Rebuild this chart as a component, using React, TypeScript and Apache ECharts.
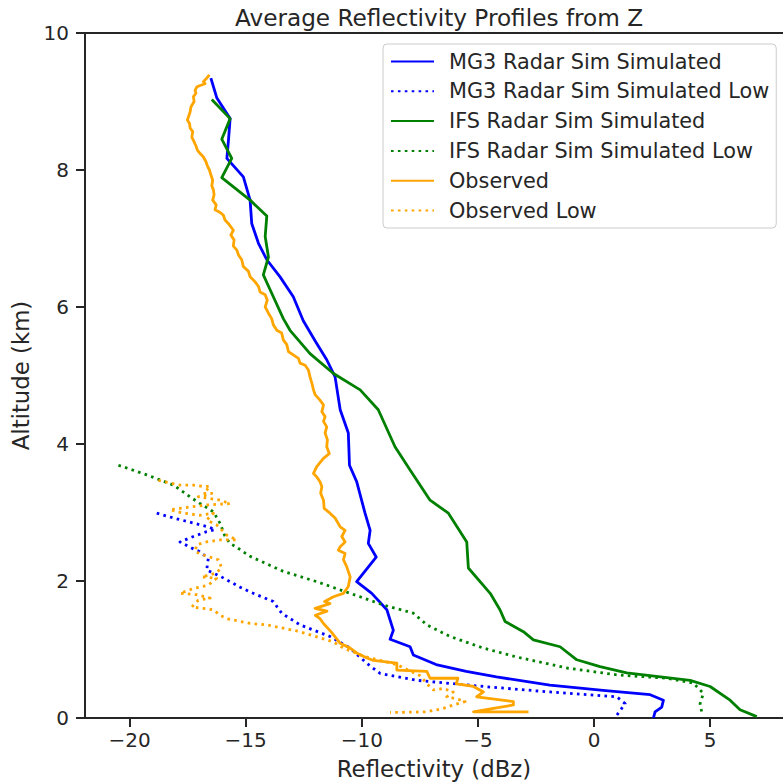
import React, { useEffect, useRef } from "react";
import * as echarts from "echarts";

const xTicks = [-20, -15, -10, -5, 0, 5];
const yTicks = [0, 2, 4, 6, 8, 10];

const seriesNames = [
  "MG3 Radar Sim Simulated",
  "MG3 Radar Sim Simulated Low",
  "IFS Radar Sim Simulated",
  "IFS Radar Sim Simulated Low",
  "Observed",
  "Observed Low",
];

// [reflectivity dBz, altitude km]
const mg3Sim: [number, number][] = [
  [-16.5, 9.34], [-16.24, 9.05], [-15.67, 8.75], [-15.74, 8.44], [-15.81, 8.17], [-15.1, 7.9],
  [-14.81, 7.56], [-14.74, 7.22], [-14.45, 6.93], [-14.09, 6.69], [-13.52, 6.44], [-12.95, 6.15],
  [-12.52, 5.8], [-12.0, 5.5], [-11.51, 5.23], [-11.15, 4.98], [-10.93, 4.5], [-10.58, 4.16],
  [-10.53, 3.69], [-10.22, 3.45], [-9.86, 2.99], [-9.64, 2.74], [-9.72, 2.55], [-9.38, 2.35],
  [-10.22, 1.99], [-9.57, 1.82], [-8.92, 1.58], [-8.64, 1.28], [-8.78, 1.15], [-7.92, 1.04],
  [-7.78, 0.92], [-6.8, 0.78], [-5.5, 0.68], [-4.2, 0.6], [-1.9, 0.48], [0.5, 0.4],
  [2.42, 0.34], [2.99, 0.26], [2.92, 0.16], [2.63, 0.09], [2.56, 0.0],
];

const mg3Low: [number, number][] = [
  [-18.83, 2.99], [-18.11, 2.92], [-17.18, 2.84], [-16.61, 2.79], [-16.32, 2.75], [-16.68, 2.72],
  [-17.25, 2.65], [-17.83, 2.57], [-17.32, 2.48], [-16.99, 2.43], [-16.61, 2.33], [-16.68, 2.16],
  [-16.1, 2.07], [-15.24, 1.91], [-14.81, 1.84], [-13.81, 1.7], [-13.45, 1.53], [-12.66, 1.36],
  [-11.37, 1.19], [-10.5, 1.02], [-9.79, 0.8], [-9.21, 0.65], [-7.63, 0.55], [-4.76, 0.46],
  [-1.89, 0.38], [0.98, 0.31], [1.34, 0.21], [0.98, 0.04],
];

const ifsSim: [number, number][] = [
  [-16.46, 9.03], [-15.67, 8.75], [-16.03, 8.45], [-15.6, 8.17], [-16.03, 7.89], [-14.81, 7.56],
  [-14.09, 7.33], [-14.16, 7.03], [-14.02, 6.73], [-14.24, 6.47], [-13.81, 6.15], [-13.38, 5.83],
  [-13.09, 5.66], [-12.23, 5.32], [-11.22, 5.03], [-10.07, 4.79], [-9.29, 4.5], [-8.57, 3.96],
  [-7.92, 3.62], [-7.06, 3.18], [-6.27, 2.99], [-5.48, 2.57], [-5.41, 2.19], [-4.47, 1.82],
  [-4.05, 1.58], [-3.83, 1.41], [-3.04, 1.26], [-2.61, 1.14], [-1.46, 1.04], [-0.74, 0.85],
  [0.26, 0.75], [1.41, 0.66], [4.14, 0.55], [5.0, 0.46], [5.86, 0.26], [6.29, 0.12], [7.01, 0.02],
];

const ifsLow: [number, number][] = [
  [-20.48, 3.69], [-19.26, 3.55], [-18.11, 3.4], [-17.4, 3.23], [-16.96, 3.13], [-16.39, 3.01],
  [-16.1, 2.84], [-15.89, 2.65], [-15.67, 2.55], [-15.38, 2.49], [-14.81, 2.36], [-13.38, 2.14],
  [-11.94, 1.99], [-10.5, 1.82], [-9.07, 1.65], [-7.78, 1.53], [-7.2, 1.36], [-6.2, 1.19],
  [-4.76, 1.02], [-3.32, 0.89], [-1.17, 0.73], [0.98, 0.63], [3.13, 0.58], [4.28, 0.51],
  [4.71, 0.36], [4.57, 0.21], [4.65, 0.07],
];

const observed: [number, number][] = [
  [-16.56, 9.39], [-16.68, 9.34], [-16.82, 9.29], [-16.75, 9.26], [-16.99, 9.23], [-17.11, 9.21],
  [-17.18, 9.16], [-17.14, 9.12], [-17.25, 9.07], [-17.22, 9.0], [-17.36, 8.92], [-17.39, 8.85],
  [-17.51, 8.73], [-17.42, 8.68], [-17.39, 8.61], [-17.28, 8.56], [-17.32, 8.48], [-17.22, 8.41],
  [-17.14, 8.35], [-17.08, 8.29], [-16.96, 8.24], [-16.82, 8.19], [-16.71, 8.12], [-16.65, 8.06],
  [-16.56, 8.0], [-16.5, 7.93], [-16.42, 7.85], [-16.46, 7.77], [-16.39, 7.71], [-16.36, 7.64],
  [-16.42, 7.56], [-16.27, 7.49], [-16.32, 7.42], [-16.1, 7.38], [-15.96, 7.34], [-15.89, 7.27],
  [-15.75, 7.22], [-15.53, 7.12], [-15.64, 7.05], [-15.5, 6.98], [-15.53, 6.89], [-15.38, 6.83],
  [-15.31, 6.76], [-15.17, 6.69], [-15.1, 6.59], [-14.88, 6.52], [-14.81, 6.44], [-14.6, 6.37],
  [-14.45, 6.3], [-14.38, 6.22], [-14.16, 6.18], [-14.07, 6.1], [-14.16, 6.0], [-14.02, 5.91],
  [-13.88, 5.83], [-13.81, 5.74], [-13.66, 5.66], [-13.45, 5.62], [-13.38, 5.52], [-13.23, 5.45],
  [-13.16, 5.35], [-12.95, 5.3], [-12.73, 5.25], [-12.66, 5.18], [-12.44, 5.15], [-12.3, 5.08],
  [-12.23, 4.98], [-12.15, 4.89], [-12.08, 4.79], [-12.01, 4.72], [-11.8, 4.64], [-11.65, 4.57],
  [-11.72, 4.47], [-11.58, 4.4], [-11.65, 4.33], [-11.51, 4.25], [-11.58, 4.16], [-11.48, 4.06],
  [-11.51, 3.96], [-11.4, 3.86], [-11.65, 3.79], [-11.94, 3.67], [-12.08, 3.57], [-11.94, 3.52],
  [-11.8, 3.45], [-11.72, 3.38], [-11.77, 3.28], [-11.65, 3.18], [-11.62, 3.06], [-11.37, 2.99],
  [-11.15, 2.92], [-10.93, 2.79], [-10.72, 2.74], [-10.86, 2.65], [-10.72, 2.57], [-10.93, 2.5],
  [-11.01, 2.45], [-10.72, 2.4], [-10.79, 2.31], [-10.65, 2.21], [-10.5, 2.06], [-10.58, 1.92],
  [-10.79, 1.82], [-11.22, 1.77], [-11.6, 1.7], [-11.37, 1.67], [-12.01, 1.6], [-11.5, 1.56],
  [-12.0, 1.5], [-11.8, 1.45], [-11.65, 1.38], [-11.3, 1.25], [-10.93, 1.09], [-10.5, 1.02],
  [-10.22, 0.95], [-9.8, 0.88], [-9.5, 0.84], [-8.49, 0.8], [-8.49, 0.7], [-7.2, 0.68],
  [-7.06, 0.58], [-5.86, 0.58], [-5.93, 0.5], [-5.19, 0.46], [-4.76, 0.38], [-5.05, 0.31],
  [-3.47, 0.24], [-3.47, 0.19], [-4.33, 0.14], [-5.19, 0.09], [-2.82, 0.09],
];

const observedLow: [number, number][] = [
  [-18.76, 3.47], [-17.83, 3.4], [-17.25, 3.4], [-16.82, 3.38], [-16.53, 3.38], [-16.82, 3.28],
  [-16.46, 3.28], [-17.04, 3.23], [-16.1, 3.18], [-15.67, 3.13], [-16.68, 3.11], [-17.4, 3.08],
  [-18.26, 3.04], [-17.68, 2.99], [-16.96, 2.96], [-16.39, 2.99], [-16.68, 2.89], [-16.25, 2.82],
  [-15.82, 2.67], [-15.38, 2.6], [-16.1, 2.6], [-16.68, 2.57], [-17.11, 2.53], [-17.18, 2.43],
  [-16.82, 2.38], [-16.18, 2.31], [-16.03, 2.19], [-16.32, 2.11], [-16.89, 2.06], [-16.25, 2.04],
  [-16.61, 1.94], [-17.25, 1.89], [-17.83, 1.82], [-17.11, 1.8], [-16.53, 1.75], [-17.04, 1.72],
  [-17.32, 1.62], [-16.82, 1.6], [-16.39, 1.58], [-16.1, 1.5], [-15.82, 1.45], [-15.24, 1.41],
  [-14.81, 1.38], [-14.09, 1.36], [-12.66, 1.26], [-11.22, 1.11], [-10.79, 1.02], [-9.9, 0.9],
  [-8.5, 0.78], [-7.5, 0.62], [-7.06, 0.45], [-6.92, 0.41], [-6.49, 0.43], [-6.06, 0.38],
  [-6.34, 0.31], [-5.91, 0.28], [-5.55, 0.24], [-6.06, 0.19], [-6.49, 0.14], [-6.77, 0.12],
  [-7.2, 0.09], [-8.78, 0.08],
];

const seriesData = [mg3Sim, mg3Low, ifsSim, ifsLow, observed, observedLow];
const seriesColors = ["#0000ff", "#0000ff", "#008000", "#008000", "#ffa500", "#ffa500"];
const seriesDotted = [false, true, false, true, false, true];

const TEXT = "#262626";
const FONT = "DejaVu Sans";

const fmt = (v: number) => (v < 0 ? "\u2212" + Math.abs(v) : String(v));

export default function App() {
  const ref = useRef<HTMLDivElement>(null);
  useEffect(() => {
    if (!ref.current) return;
    const chart = echarts.init(ref.current, null, { renderer: "svg" });
    const xMin = -21.92;
    const xMax = 8.14;
    chart.setOption({
      animation: false,
      backgroundColor: "#ffffff",
      textStyle: { fontFamily: FONT, color: TEXT },
      title: {
        text: "Average Reflectivity Profiles from Z",
        left: 439,
        top: 6,
        padding: 0,
        textAlign: "center",
        textStyle: { fontFamily: FONT, fontSize: 23.2, fontWeight: "normal", color: TEXT },
      },
      legend: {
        orient: "vertical",
        left: 383,
        top: 44,
        padding: [7, 7, 7, 7],
        itemWidth: 43,
        itemHeight: 14,
        itemGap: 8.8,
        backgroundColor: "rgba(255,255,255,0.8)",
        borderColor: "#cccccc",
        borderWidth: 1,
        borderRadius: 4,
        data: seriesNames,
        itemStyle: { opacity: 0, borderWidth: 0 },
        textStyle: { fontFamily: FONT, fontSize: 20.8, color: TEXT, lineHeight: 20.8, padding: [0, 0, 0, 10] },
      },
      grid: { left: 85, right: 0, top: 33, bottom: 65, containLabel: false, outerBoundsMode: "none" },
      xAxis: [
        {
          type: "value",
          min: xMin,
          max: xMax,
          name: "Reflectivity (dBz)",
          nameLocation: "middle",
          nameGap: 39,
          nameTextStyle: { fontFamily: FONT, fontSize: 22.8, color: TEXT },
          axisLine: { show: true, onZero: false, lineStyle: { color: TEXT, width: 2 } },
          axisTick: { show: true, length: 9, customValues: xTicks, lineStyle: { color: TEXT, width: 2 } },
          axisLabel: { show: true, customValues: xTicks, margin: 12, fontSize: 20, color: TEXT, fontFamily: FONT, formatter: fmt },
          splitLine: { show: false },
        },
        {
          type: "value",
          position: "top",
          min: xMin,
          max: xMax,
          axisLine: { show: true, onZero: false, lineStyle: { color: TEXT, width: 2 } },
          axisTick: { show: false },
          axisLabel: { show: false },
          splitLine: { show: false },
        },
      ],
      yAxis: {
        type: "value",
        min: 0,
        max: 10,
        interval: 2,
        name: "Altitude (km)",
        nameLocation: "middle",
        nameGap: 47,
        nameTextStyle: { fontFamily: FONT, fontSize: 22.8, color: TEXT },
        axisLine: { show: true, onZero: false, lineStyle: { color: TEXT, width: 2 } },
        axisTick: { show: true, length: 9, customValues: yTicks, lineStyle: { color: TEXT, width: 2 } },
        axisLabel: { show: true, customValues: yTicks, margin: 16, fontSize: 20, color: TEXT, fontFamily: FONT, formatter: fmt },
        splitLine: { show: false },
      },
      series: seriesNames.map((name, i) => ({
        name,
        type: "line",
        xAxisIndex: 0,
        data: seriesData[i],
        symbol: "none",
        showSymbol: false,
        smooth: false,
        color: seriesColors[i],
        lineStyle: {
          color: seriesColors[i],
          width: 2.8,
          type: seriesDotted[i] ? [2.6, 4.3] : "solid",
          cap: "butt",
          join: "round",
        },
        z: 2 + i,
      })),
    });
    return () => chart.dispose();
  }, []);
  return <div ref={ref} style={{ width: 783, height: 783, position: "absolute", left: 0, top: 0 }} />;
}
